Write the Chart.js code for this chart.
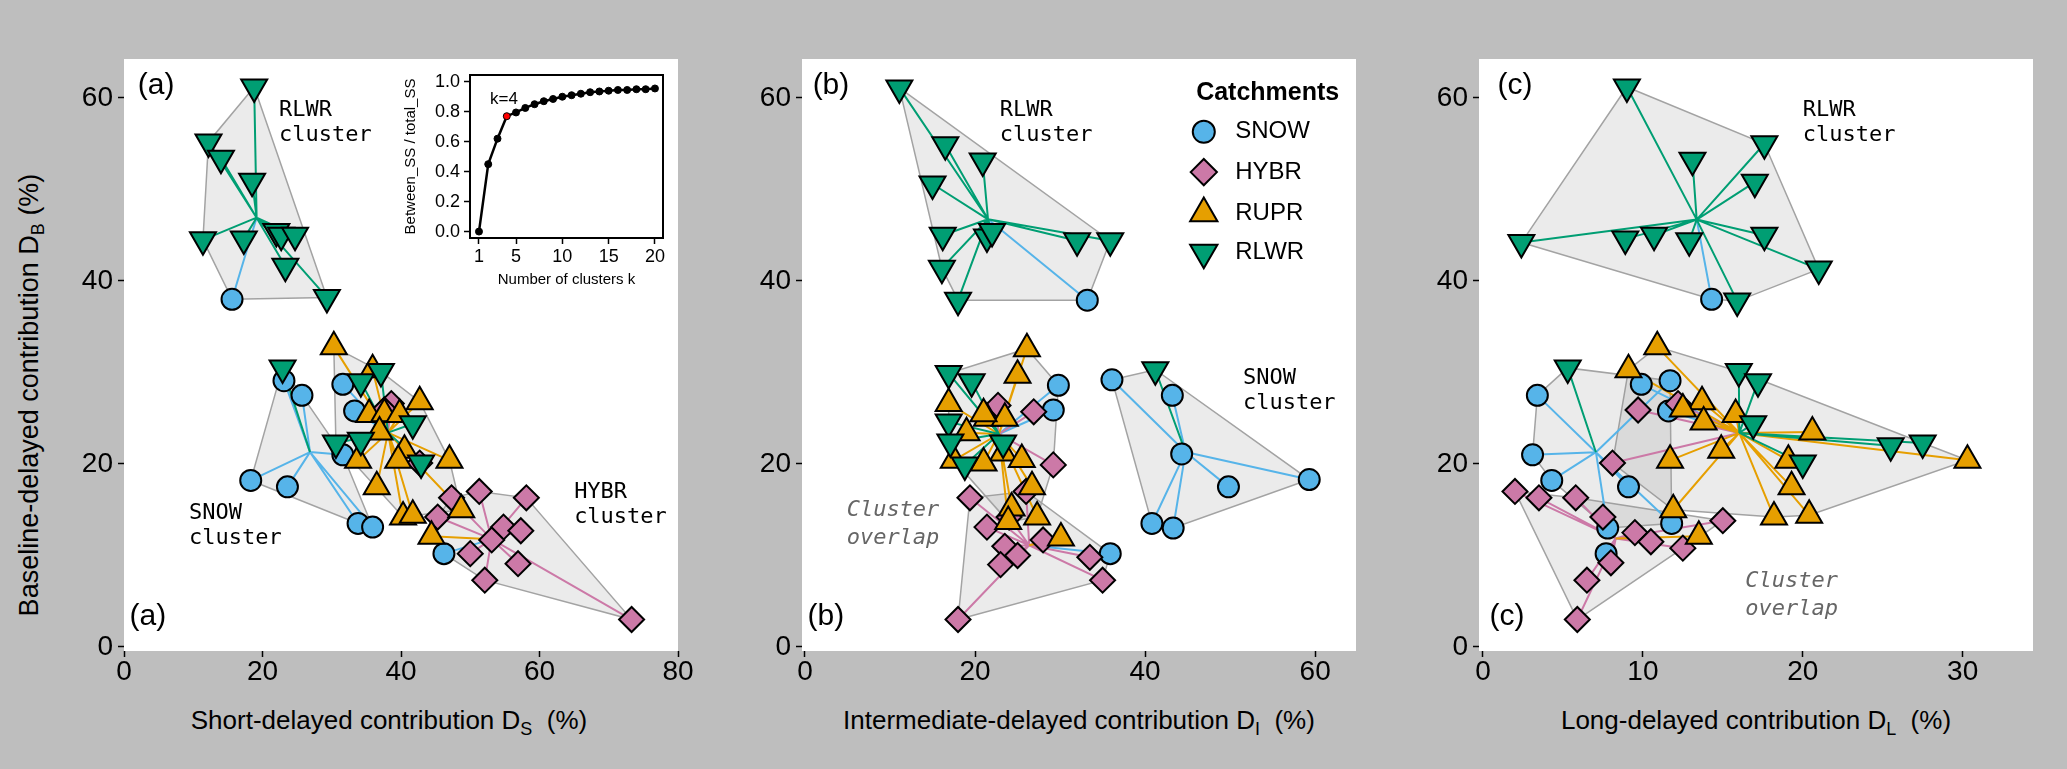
<!DOCTYPE html>
<html>
<head>
<meta charset="utf-8">
<script src="https://cdn.jsdelivr.net/npm/chart.js@4.4.0/dist/chart.umd.min.js"></script>
<style>
  html, body { margin: 0; padding: 0; }
  body { width: 2067px; height: 769px; background: #bebebe; position: relative; overflow: hidden;
         font-family: "Liberation Sans", Arial, sans-serif; }
  canvas { position: absolute; top: 0; }
  .xt { position: absolute; top: 705px; font-size: 26px; line-height: 30px; white-space: nowrap; transform: translateX(-50%); }
  .yt { position: absolute; left: 29px; top: 395px; font-size: 27px; line-height: 30px; white-space: nowrap;
        transform: translate(-50%, -50%) rotate(-90deg); }
  sub { font-size: 18px; vertical-align: -6px; line-height: 0; }
</style>
</head>
<body>
<div class="yt">Baseline-delayed contribution D<sub>B</sub> (%)</div>
<div class="xt" style="left:389px">Short-delayed contribution D<sub>S</sub>&nbsp; (%)</div>
<div class="xt" style="left:1079px">Intermediate-delayed contribution D<sub>I</sub>&nbsp; (%)</div>
<div class="xt" style="left:1756px">Long-delayed contribution D<sub>L</sub>&nbsp; (%)</div>
<script>
// [x, DB, cluster]  cluster: R = RLWR cluster, S = SNOW cluster, M = mixed (RUPR) cluster, H = HYBR cluster
const A_RLWR = [[18.8,61.2,'R'],[12.2,55.2,'R'],[14.0,53.4,'R'],[18.5,50.9,'R'],[11.4,44.5,'R'],[17.3,44.6,'R'],[22.0,45.4,'R'],[22.7,45.0,'R'],[24.7,45.0,'R'],[23.3,41.6,'R'],[29.3,38.2,'R'],
  [22.9,30.5,'S'],
  [34.2,29.0,'M'],[37.1,30.1,'M'],[41.7,24.4,'M'],[30.6,22.3,'M'],[34.2,22.6,'M'],[42.9,20.1,'M']];
const A_RUPR = [[30.3,32.8,'M'],[35.9,30.3,'M'],[42.7,26.8,'M'],[35.4,25.4,'M'],[37.6,25.5,'M'],[39.8,25.4,'M'],[36.9,23.5,'M'],[33.8,20.4,'M'],[40.5,21.5,'M'],[39.6,20.4,'M'],[47.0,20.4,'M'],[36.5,17.5,'M'],[40.3,14.2,'M'],[41.7,14.4,'M'],[48.7,15.0,'M'],[44.4,12.1,'H']];
const A_HYBR = [[38.6,26.6,'M'],[37.6,25.9,'M'],[42.7,20.1,'M'],
  [47.3,16.3,'H'],[51.3,17.0,'H'],[58.1,16.3,'H'],[45.3,14.2,'H'],[54.8,13.1,'H'],[57.3,12.7,'H'],[53.1,11.7,'H'],[50.0,10.2,'H'],[52.1,7.3,'H'],[56.9,9.1,'H'],[73.3,3.0,'H']];
const A_SNOW = [[15.6,38.0,'R'],
  [23.1,29.1,'S'],[25.7,27.5,'S'],[31.6,21.0,'S'],[18.3,18.2,'S'],[23.6,17.5,'S'],[33.8,13.5,'S'],[35.9,13.1,'S'],
  [31.6,28.7,'M'],[33.3,25.8,'M'],
  [46.2,10.2,'H']];

const B_RLWR = [[11.1,61.1,'R'],[16.5,54.9,'R'],[20.9,53.1,'R'],[15.0,50.6,'R'],[16.2,45.0,'R'],[21.4,44.8,'R'],[22.0,45.4,'R'],[16.1,41.4,'R'],[18.0,37.9,'R'],[32.0,44.4,'R'],[35.9,44.4,'R'],
  [41.2,30.3,'S'],
  [16.9,29.9,'M'],[19.6,29.0,'M'],[16.9,24.6,'M'],[17.1,22.4,'M'],[23.3,22.3,'M'],[18.8,19.9,'M']];
const B_RUPR = [[26.1,32.6,'M'],[25.0,29.7,'M'],[16.9,26.6,'M'],[21.4,25.0,'M'],[23.5,25.0,'M'],[21.0,25.5,'M'],[19.0,23.4,'M'],[23.3,21.2,'M'],[21.0,20.1,'M'],[17.5,20.4,'M'],[25.5,20.5,'M'],[26.7,17.5,'M'],[24.3,15.2,'M'],[27.3,14.2,'M'],[23.9,13.7,'M'],[30.1,11.9,'H']];
const B_HYBR = [[22.7,26.4,'M'],[26.9,25.7,'M'],[29.2,19.9,'M'],
  [19.4,16.3,'H'],[21.4,13.1,'H'],[26.0,17.0,'H'],[24.0,14.2,'H'],[23.5,11.0,'H'],[25.0,10.0,'H'],[23.0,9.0,'H'],[28.0,11.7,'H'],[33.5,9.8,'H'],[35.0,7.3,'H'],[18.0,3.0,'H']];
const B_SNOW = [[33.2,37.9,'R'],
  [36.1,29.2,'S'],[43.2,27.5,'S'],[44.3,21.1,'S'],[49.8,17.5,'S'],[59.3,18.3,'S'],[40.8,13.5,'S'],[43.3,13.0,'S'],
  [29.8,28.6,'M'],[29.2,25.9,'M'],
  [35.9,10.2,'H']];

const C_RLWR = [[9.0,61.2,'R'],[17.6,55.0,'R'],[13.1,53.2,'R'],[17.0,50.8,'R'],[2.4,44.2,'R'],[8.9,44.6,'R'],[10.7,45.0,'R'],[12.9,44.4,'R'],[17.6,45.0,'R'],[21.0,41.3,'R'],[15.9,37.8,'R'],
  [5.3,30.5,'S'],
  [16.0,30.1,'M'],[17.2,29.0,'M'],[16.9,24.4,'M'],[25.5,22.0,'M'],[27.5,22.3,'M'],[20.0,20.1,'M']];
const C_RUPR = [[10.9,32.8,'M'],[9.1,30.3,'M'],[13.7,26.8,'M'],[12.5,26.0,'M'],[15.8,25.4,'M'],[13.8,24.6,'M'],[20.6,23.5,'M'],[30.3,20.4,'M'],[14.9,21.5,'M'],[19.1,20.4,'M'],[11.7,20.4,'M'],[19.3,17.5,'M'],[18.2,14.2,'M'],[20.4,14.4,'M'],[11.9,15.0,'M'],[13.5,12.1,'H']];
const C_HYBR = [[12.2,26.6,'M'],[9.7,25.9,'M'],[8.1,20.1,'M'],
  [2.0,17.0,'H'],[3.5,16.3,'H'],[5.8,16.3,'H'],[7.5,14.2,'H'],[9.5,12.5,'H'],[10.5,11.5,'H'],[12.5,10.8,'H'],[8.0,9.2,'H'],[15.0,13.8,'H'],[6.5,7.3,'H'],[5.9,3.0,'H']];
const C_SNOW = [[14.3,38.0,'R'],
  [11.7,29.1,'S'],[3.4,27.5,'S'],[3.1,21.0,'S'],[4.3,18.2,'S'],[9.1,17.5,'S'],[11.8,13.5,'S'],[7.8,13.0,'S'],
  [9.9,28.7,'M'],[11.6,25.8,'M'],
  [7.7,10.2,'H']];

const xTicksA = [0, 20, 40, 60, 80];
const xTicksB = [0, 20, 40, 60];
const xTicksC = [0, 10, 20, 30];
const yTicks = [0, 20, 40, 60];

// inset: elbow curve
const insetK = [1,2,3,4,5,6,7,8,9,10,11,12,13,14,15,16,17,18,19,20];
const insetRatio = [0.0,0.45,0.62,0.77,0.795,0.825,0.85,0.87,0.885,0.90,0.91,0.92,0.93,0.935,0.94,0.945,0.945,0.95,0.95,0.955];
const insetTicksX = [1, 5, 10, 15, 20];
const insetTicksY = [0, 0.2, 0.4, 0.6, 0.8, 1.0];

const legendNames = ['SNOW', 'HYBR', 'RUPR', 'RLWR'];

const COLORS = { SNOW: '#56B4E9', HYBR: '#CC79A7', RUPR: '#E69F00', RLWR: '#009E73' };
const MARK = {
  SNOW: { pointStyle: 'circle', radius: 10.5, rotation: 0 },
  HYBR: { pointStyle: 'rectRot', radius: 12.5, rotation: 0 },
  RUPR: { pointStyle: 'triangle', radius: 15, rotation: 0 },
  RLWR: { pointStyle: 'triangle', radius: 15, rotation: 180 }
};
const DRAW_ORDER = ['RLWR', 'RUPR', 'HYBR', 'SNOW']; // first = top-most
const CLUSTERS = ['R', 'S', 'M', 'H'];

const AREA_TOP = 59, AREA_BOTTOM = 651, AREA_W = 554, YAXIS_W = 120, PAD_R = 30, H = 769;

const panels = [
  { left: 124, xMin: 0, xMax: 80, xTicks: xTicksA, series: { RLWR: A_RLWR, RUPR: A_RUPR, HYBR: A_HYBR, SNOW: A_SNOW },
    tags: [{ t: '(a)', x: 2.0, y: 61.3 }, { t: '(a)', x: 0.8, y: 3.3 }],
    notes: [{ lines: ['RLWR', 'cluster'], x: 22.4, y: 58.7 }, { lines: ['SNOW', 'cluster'], x: 9.4, y: 14.6 }, { lines: ['HYBR', 'cluster'], x: 65.0, y: 16.9 }] },
  { left: 802, xMin: -0.35, xMax: 64.8, xTicks: xTicksB, series: { RLWR: B_RLWR, RUPR: B_RUPR, HYBR: B_HYBR, SNOW: B_SNOW },
    tags: [{ t: '(b)', x: 0.9, y: 61.3 }, { t: '(b)', x: 0.3, y: 3.3 }],
    notes: [{ lines: ['RLWR', 'cluster'], x: 22.9, y: 58.7 }, { lines: ['SNOW', 'cluster'], x: 51.5, y: 29.4 },
            { lines: ['Cluster', 'overlap'], x: 4.9, y: 14.9, italic: true }],
    legend: { x: 46.0, y: 60.5, mx: 46.9, lx: 50.6, ys: [56.3, 51.9, 47.4, 43.1] } },
  { left: 1479, xMin: -0.25, xMax: 34.4, xTicks: xTicksC, series: { RLWR: C_RLWR, RUPR: C_RUPR, HYBR: C_HYBR, SNOW: C_SNOW },
    tags: [{ t: '(c)', x: 0.9, y: 61.3 }, { t: '(c)', x: 0.4, y: 3.3 }],
    notes: [{ lines: ['RLWR', 'cluster'], x: 20.0, y: 58.7 }, { lines: ['Cluster', 'overlap'], x: 16.4, y: 7.2, italic: true }] }
];

function mean(a) { return a.reduce((s, v) => s + v, 0) / a.length; }

function hull(pts) {
  const p = pts.slice().sort((a, b) => a[0] - b[0] || a[1] - b[1]);
  if (p.length < 3) return p;
  const cross = (o, a, b) => (a[0] - o[0]) * (b[1] - o[1]) - (a[1] - o[1]) * (b[0] - o[0]);
  const lower = [], upper = [];
  for (const q of p) {
    while (lower.length >= 2 && cross(lower[lower.length - 2], lower[lower.length - 1], q) <= 0) lower.pop();
    lower.push(q);
  }
  for (let i = p.length - 1; i >= 0; i--) {
    const q = p[i];
    while (upper.length >= 2 && cross(upper[upper.length - 2], upper[upper.length - 1], q) <= 0) upper.pop();
    upper.push(q);
  }
  upper.pop(); lower.pop();
  return lower.concat(upper);
}

const whitePanel = {
  id: 'whitePanel',
  beforeDraw(chart) {
    const a = chart.chartArea, ctx = chart.ctx;
    ctx.save(); ctx.fillStyle = '#ffffff';
    ctx.fillRect(a.left, a.top, a.right - a.left, a.bottom - a.top);
    ctx.restore();
  }
};

const panelText = {
  id: 'panelText',
  afterDatasetsDraw(chart, args, opts) {
    const p = opts.panel; if (!p) return;
    const ctx = chart.ctx, xs = chart.scales.x, ys = chart.scales.y;
    ctx.save();
    ctx.textBaseline = 'middle'; ctx.textAlign = 'left';
    ctx.fillStyle = '#000';
    ctx.font = '30px "Liberation Sans", Arial, sans-serif';
    p.tags.forEach(t => ctx.fillText(t.t, xs.getPixelForValue(t.x), ys.getPixelForValue(t.y)));
    p.notes.forEach(n => {
      ctx.font = (n.italic ? 'italic ' : '') + '22px "DejaVu Sans Mono", monospace';
      ctx.fillStyle = n.italic ? '#666666' : '#000000';
      const x = xs.getPixelForValue(n.x), y = ys.getPixelForValue(n.y);
      n.lines.forEach((l, i) => ctx.fillText(l, x, y + i * (n.italic ? 28 : 25)));
    });
    if (p.legend) {
      const L = p.legend;
      ctx.fillStyle = '#000';
      ctx.font = 'bold 25px "Liberation Sans", Arial, sans-serif';
      ctx.fillText('Catchments', xs.getPixelForValue(L.x), ys.getPixelForValue(L.y));
      ctx.font = '24px "Liberation Sans", Arial, sans-serif';
      legendNames.forEach((name, i) => {
        const y = ys.getPixelForValue(L.ys[i]);
        const m = MARK[name];
        ctx.fillStyle = COLORS[name]; ctx.strokeStyle = '#000'; ctx.lineWidth = 2;
        Chart.helpers.drawPoint(ctx, { pointStyle: m.pointStyle, radius: m.radius * 1.05, rotation: m.rotation, borderWidth: 2 },
          xs.getPixelForValue(L.mx), y);
        ctx.fillStyle = '#000';
        ctx.fillText(name, xs.getPixelForValue(L.lx), y);
      });
    }
    ctx.restore();
  }
};

function buildPanel(p) {
  const canvas = document.createElement('canvas');
  canvas.width = YAXIS_W + AREA_W + PAD_R; canvas.height = H;
  canvas.style.left = (p.left - YAXIS_W) + 'px';
  document.body.appendChild(canvas);

  const all = [];
  DRAW_ORDER.forEach(t => p.series[t].forEach(d => all.push({ x: d[0], y: d[1], c: d[2], t })));
  const cent = {};
  const datasets = [];
  CLUSTERS.forEach(c => {
    const m = all.filter(d => d.c === c);
    cent[c] = { x: mean(m.map(d => d.x)), y: mean(m.map(d => d.y)) };
    const poly = hull(m.map(d => [d.x, d.y])).map(q => ({ x: q[0], y: q[1] }));
    poly.push(poly[0]);
    datasets.push({ type: 'line', data: poly, order: 3, fill: 'shape', tension: 0,
      backgroundColor: 'rgba(150,150,150,0.19)', borderColor: '#a3a3a3', borderWidth: 1.5, pointRadius: 0 });
  });
  DRAW_ORDER.forEach(t => {
    const segs = [];
    all.filter(d => d.t === t).forEach(d => {
      segs.push({ x: cent[d.c].x, y: cent[d.c].y }, { x: d.x, y: d.y }, { x: NaN, y: NaN });
    });
    datasets.push({ type: 'line', data: segs, order: 2, fill: false, spanGaps: false, tension: 0,
      borderColor: COLORS[t], borderWidth: 2, pointRadius: 0 });
  });
  DRAW_ORDER.forEach((t, i) => {
    const m = MARK[t];
    datasets.push({ type: 'scatter', order: i * 0.1, data: p.series[t].map(d => ({ x: d[0], y: d[1] })),
      pointStyle: m.pointStyle, pointRadius: m.radius, pointRotation: m.rotation,
      backgroundColor: COLORS[t], borderColor: '#000', borderWidth: 2 });
  });

  new Chart(canvas, {
    type: 'scatter',
    data: { datasets },
    plugins: [whitePanel, panelText],
    options: {
      responsive: false, animation: false, events: [], devicePixelRatio: 1,
      layout: { padding: { top: AREA_TOP, right: PAD_R, left: 0, bottom: 0 } },
      plugins: { legend: { display: false }, tooltip: { enabled: false }, panelText: { panel: p } },
      scales: {
        x: { type: 'linear', min: p.xMin, max: p.xMax,
          afterBuildTicks: s => { s.ticks = p.xTicks.map(v => ({ value: v })); },
          afterFit: s => { s.height = H - AREA_BOTTOM; },
          border: { display: false },
          grid: { drawOnChartArea: false, drawTicks: true, tickLength: 6, tickColor: '#000', tickWidth: 1.5 },
          ticks: { color: '#000', padding: 1, maxRotation: 0, font: { size: 28, family: '"Liberation Sans", Arial, sans-serif', lineHeight: 1 } } },
        y: { type: 'linear', min: -0.44, max: 64.26,
          afterBuildTicks: s => { s.ticks = yTicks.map(v => ({ value: v })); },
          afterFit: s => { s.width = YAXIS_W; },
          border: { display: false },
          grid: { drawOnChartArea: false, drawTicks: true, tickLength: 6, tickColor: '#000', tickWidth: 1.5 },
          ticks: { color: '#000', padding: 5, font: { size: 28, family: '"Liberation Sans", Arial, sans-serif', lineHeight: 1 } } }
      }
    }
  });
}

panels.forEach(buildPanel);

// inset elbow plot inside panel (a)
(function () {
  const canvas = document.createElement('canvas');
  canvas.width = 280; canvas.height = 240;
  canvas.style.left = '395px'; canvas.style.top = '60px';
  document.body.appendChild(canvas);
  const boxPlugin = {
    id: 'box',
    afterDraw(chart) {
      const a = chart.chartArea, ctx = chart.ctx;
      ctx.save(); ctx.strokeStyle = '#000'; ctx.lineWidth = 2;
      ctx.strokeRect(a.left, a.top, a.right - a.left, a.bottom - a.top);
      ctx.fillStyle = '#000'; ctx.font = '17px "Liberation Sans", Arial, sans-serif';
      ctx.textAlign = 'center'; ctx.textBaseline = 'middle';
      ctx.fillText('k=4', chart.scales.x.getPixelForValue(3.7), chart.scales.y.getPixelForValue(0.88));
      ctx.restore();
    }
  };
  const f = { family: '"Liberation Sans", Arial, sans-serif' };
  new Chart(canvas, {
    type: 'line',
    data: { datasets: [{ data: insetK.map((k, i) => ({ x: k, y: insetRatio[i] })),
      borderColor: '#000', borderWidth: 2.5, tension: 0, pointRadius: 3.5,
      pointBackgroundColor: insetK.map(k => k === 4 ? '#ff0000' : '#000'), pointBorderColor: '#000', pointBorderWidth: 1 }] },
    plugins: [boxPlugin],
    options: {
      responsive: false, animation: false, events: [], devicePixelRatio: 1,
      layout: { padding: { top: 15, right: 12, left: 0, bottom: 0 } },
      plugins: { legend: { display: false }, tooltip: { enabled: false } },
      scales: {
        x: { type: 'linear', min: 0.03, max: 20.87,
          afterBuildTicks: s => { s.ticks = insetTicksX.map(v => ({ value: v })); },
          afterFit: s => { s.height = 62; },
          border: { display: false },
          grid: { drawOnChartArea: false, tickLength: 6, tickColor: '#000', tickWidth: 1.5 },
          ticks: { color: '#000', padding: 4, maxRotation: 0, font: { ...f, size: 18, lineHeight: 1 } },
          title: { display: true, text: 'Number of clusters k', color: '#000', font: { ...f, size: 15, lineHeight: 1 }, padding: { top: 0, bottom: 13 } } },
        y: { type: 'linear', min: -0.043, max: 1.045,
          afterBuildTicks: s => { s.ticks = insetTicksY.map(v => ({ value: v })); },
          afterFit: s => { s.width = 75; },
          border: { display: false },
          grid: { drawOnChartArea: false, tickLength: 6, tickColor: '#000', tickWidth: 1.5 },
          ticks: { color: '#000', padding: 4, callback: v => v.toFixed(1), font: { ...f, size: 18, lineHeight: 1 } },
          title: { display: true, text: 'Between_SS / total_SS', color: '#000', font: { ...f, size: 15, lineHeight: 1 }, padding: { top: 8, bottom: 0 } } }
      }
    }
  });
})();
</script>
</body>
</html>
